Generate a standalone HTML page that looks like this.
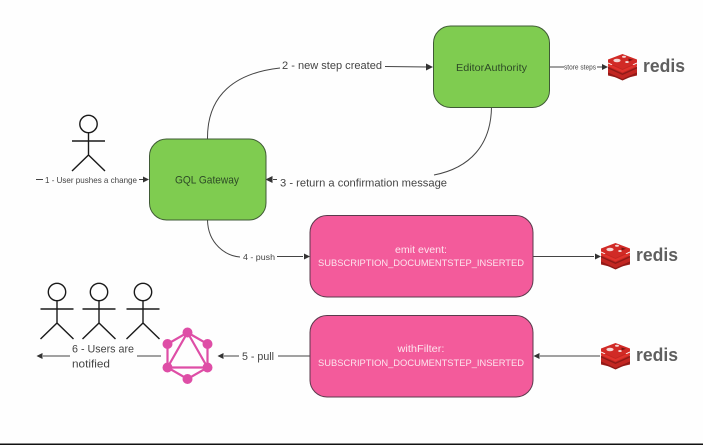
<!DOCTYPE html>
<html><head><meta charset="utf-8">
<style>
html,body{margin:0;padding:0;background:#fefefe;overflow:hidden}
svg{display:block;filter:blur(0.35px)}
text{font-family:"Liberation Sans",sans-serif}
</style></head>
<body>
<svg width="703" height="445" viewBox="0 0 703 445" xmlns="http://www.w3.org/2000/svg">
<defs>
<g id="actor" fill="none" stroke="#1a1a1a" stroke-width="1.4">
  <circle cx="0" cy="0" r="8.7"/>
  <path d="M0 8.7V31M-16.5 17H16.5M-16.5 47L0 31L16.5 47"/>
</g>
<g id="redis">
  <path d="M0 15.5L14.5 9L29 15.5V21.5L14.500 25L0 21.5Z" fill="#a51f1c"/>
  <path d="M0 9.5L14.5 3L29 9.5V15.5L14.5 22L0 15.5Z" fill="#c22622" transform="translate(0,3)"/>
  <path d="M0 10L14.5 16.5L29 10L29 12.5L14.5 19L0 12.5Z" fill="#e0322c" transform="translate(0,-0.5)"/>
  <path d="M0 5.5L14.5 0L29 5.5V8.5L14.5 15L0 8.5Z" fill="#d12a26"/>
  <path d="M0 13L14.5 19.5L29 13V14.5L14.5 21L0 14.5Z" fill="#8f1a18"/>
  <path d="M0 18.5L14.5 25L29 18.5V20L14.5 26.5L0 20Z" fill="#8f1a18"/>
  <ellipse cx="9" cy="6.5" rx="3.6" ry="1.7" fill="#f3d6d4"/>
  <ellipse cx="16" cy="2.8" rx="2" ry="1" fill="#f3d6d4"/>
  <ellipse cx="19" cy="8" rx="1.8" ry="1" fill="#f3d6d4"/>
  <path d="M20.5 4.5L25 5.8L20.5 7.5Z" fill="#7a1512"/>
  <text x="35" y="18" font-size="18" font-weight="bold" fill="#5f5f5f" textLength="42" lengthAdjust="spacingAndGlyphs">redis</text>
</g>
</defs>

<rect x="0" y="0" width="703" height="445" fill="#fefefe"/>

<!-- connectors -->
<g fill="none" stroke="#444" stroke-width="1">
  <path d="M207.500 139C207 95 235 73 280 68"/>
  <path d="M385 66.500L428 67"/>
  <path d="M491.500 107C491 145 470 168 434 175"/>
  <path d="M207.500 220C208 244 226 256 240 257"/>
  <path d="M277 256.500H303"/>
  <path d="M533 256.500H594"/>
  <path d="M600 356H540"/>
  <path d="M310 356H278M239 356H224"/>
  <path d="M161 356H137M70 356H43"/>
  <path d="M36 179.500H43M139 179.500H144"/>
  <path d="M549 67H564M597 67H602"/>
  <path d="M273 179.500H277"/>
</g>
<g fill="#333">
  <path d="M433 67L426 63.500V70.500Z"/>
  <path d="M265.500 179.500L272.500 176V183Z"/>
  <path d="M149 179.500L143 176.500V182.500Z"/>
  <path d="M608 67L602 64V70Z"/>
  <path d="M310 256.500L304 253.500V259.500Z"/>
  <path d="M601 256.500L595 253.500V259.500Z"/>
  <path d="M533.500 356L539.500 353V359Z"/>
  <path d="M217.500 356L223.500 353V359Z"/>
  <path d="M36.500 356L42.500 353V359Z"/>
</g>

<!-- boxes -->
<rect x="149.500" y="139" width="116.500" height="81" rx="17" fill="#7fcc50" stroke="#3f5a35" stroke-width="1"/>
<rect x="433.500" y="26" width="116" height="81.500" rx="17" fill="#7fcc50" stroke="#3f5a35" stroke-width="1"/>
<rect x="310" y="215.500" width="223" height="81.500" rx="17" fill="#f35b9b" stroke="#5a3a4c" stroke-width="1"/>
<rect x="310" y="315.500" width="223" height="81.500" rx="17" fill="#f35b9b" stroke="#5a3a4c" stroke-width="1"/>

<!-- box labels -->
<g text-anchor="middle">
  <text x="207" y="183.500" font-size="11" fill="#2d4a26" textLength="64" lengthAdjust="spacingAndGlyphs">GQL Gateway</text>
  <text x="491.500" y="71" font-size="10.500" fill="#2d4a26" textLength="71" lengthAdjust="spacingAndGlyphs">EditorAuthority</text>
  <text x="421" y="253" fill="#fde4ee" font-size="10" textLength="52" lengthAdjust="spacingAndGlyphs">emit event:</text>
  <text x="421" y="266" fill="#fde4ee" font-size="9.500" textLength="206" lengthAdjust="spacingAndGlyphs">SUBSCRIPTION_DOCUMENTSTEP_INSERTED</text>
  <text x="421" y="352" fill="#fde4ee" font-size="10" textLength="47" lengthAdjust="spacingAndGlyphs">withFilter:</text>
  <text x="421" y="366" fill="#fde4ee" font-size="9.500" textLength="206" lengthAdjust="spacingAndGlyphs">SUBSCRIPTION_DOCUMENTSTEP_INSERTED</text>
</g>

<!-- connector labels -->
<g fill="#444">
  <text x="282" y="69" font-size="11" textLength="100" lengthAdjust="spacingAndGlyphs">2 - new step created</text>
  <text x="280" y="186.500" font-size="11" textLength="167" lengthAdjust="spacingAndGlyphs">3 - return a confirmation message</text>
  <text x="45" y="183" font-size="8.500" textLength="92" lengthAdjust="spacingAndGlyphs">1 - User pushes a change</text>
  <text x="564" y="69.500" font-size="7" textLength="32" lengthAdjust="spacingAndGlyphs">store steps</text>
  <text x="243" y="260" font-size="8.500" textLength="32" lengthAdjust="spacingAndGlyphs">4 - push</text>
  <text x="242" y="360" font-size="11" textLength="32" lengthAdjust="spacingAndGlyphs">5 - pull</text>
  <text x="72" y="352.700" font-size="11" textLength="62" lengthAdjust="spacingAndGlyphs">6 - Users are</text>
  <text x="72" y="367.700" font-size="11" textLength="38" lengthAdjust="spacingAndGlyphs">notified</text>
</g>

<!-- actors -->
<use href="#actor" x="88.500" y="124"/>
<use href="#actor" x="57" y="292"/>
<use href="#actor" x="99" y="292"/>
<use href="#actor" x="143" y="292"/>

<!-- graphql -->
<g stroke="#de4ea6" stroke-width="2.200" fill="none">
  <path d="M187.500 332.500L207.500 344V367.500L187.500 379L167.500 367.500V344Z"/>
  <path d="M187.500 332.500L207.500 367.500H167.500Z"/>
</g>
<g fill="#de4ea6">
  <circle cx="187.500" cy="332.500" r="5"/>
  <circle cx="207.500" cy="344" r="5"/>
  <circle cx="207.500" cy="367.500" r="5"/>
  <circle cx="187.500" cy="379" r="5"/>
  <circle cx="167.500" cy="367.500" r="5"/>
  <circle cx="167.500" cy="344" r="5"/>
</g>

<!-- redis logos -->
<use href="#redis" x="608" y="54"/>
<use href="#redis" x="601" y="243"/>
<use href="#redis" x="601" y="343"/>

<!-- bottom rule -->
<rect x="0" y="443.500" width="703" height="1.500" fill="#111"/>
</svg>
</body></html>
